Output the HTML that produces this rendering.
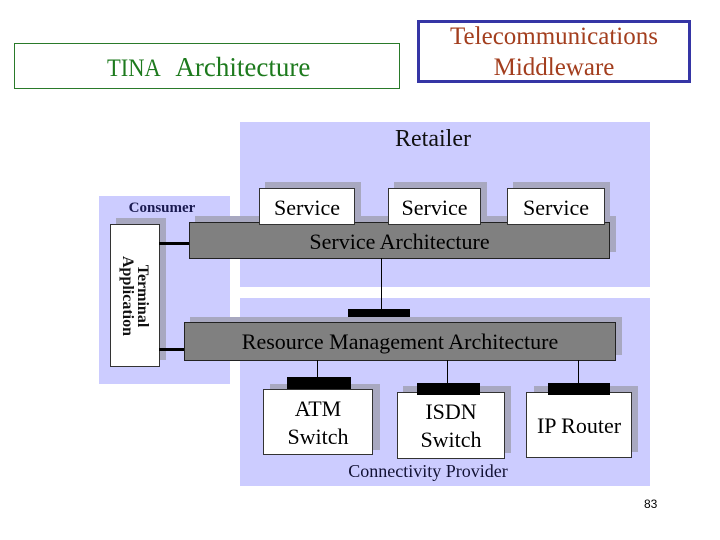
<!DOCTYPE html>
<html><head><style>
body{margin:0;width:720px;height:540px;background:#fff;position:relative;overflow:hidden;font-family:"Liberation Serif",serif}
div{position:absolute;box-sizing:border-box}
.t{white-space:nowrap;text-align:center}
.sh{background:#a8a8c0}
.wb{background:#fff;border:1px solid #333}
.bar{background:#808080;border:1px solid #222}
.blk{background:#000}
</style></head><body>
<div style="left:14px;top:43px;width:386px;height:46px;border:1px solid #2a7a2a"></div>
<div class="t" style="left:14px;top:51px;width:386px;color:#1d7a1d;font-size:27px;line-height:32px"><span style="font-size:25px;display:inline-block;transform:scaleX(0.9)">TINA</span>&nbsp; Architecture</div>
<div style="left:417px;top:20px;width:274px;height:63px;border:3px solid #3535a5"></div>
<div class="t" style="left:417px;top:20px;width:274px;color:#a33e1e;font-size:25px;line-height:31px;padding-top:1px">Telecommunications<br>Middleware</div>

<div style="left:240px;top:122px;width:410px;height:165px;background:#ccccff"></div>
<div style="left:240px;top:298px;width:410px;height:188px;background:#ccccff"></div>
<div style="left:99px;top:196px;width:131px;height:188px;background:#ccccff"></div>
<div class="t" style="left:240px;top:126px;width:386px;font-size:24px;color:#111">Retailer</div>
<div class="t" style="left:99px;top:200px;width:126px;font-size:15px;font-weight:bold;color:#1a1a50">Consumer</div>

<div class="sh" style="left:116px;top:218px;width:50px;height:142px"></div>
<div class="wb" style="left:110px;top:224px;width:50px;height:143px"></div>
<div class="t" style="left:60px;top:281px;width:150px;height:30px;transform:rotate(90deg);font-size:16px;font-weight:bold;line-height:15px;color:#111">Terminal<br>Application</div>
<div class="blk" style="left:159px;top:242px;width:30px;height:3px"></div>
<div class="blk" style="left:159px;top:348px;width:26px;height:3px"></div>

<div class="sh" style="left:195px;top:216px;width:421px;height:36px"></div>
<div class="bar" style="left:189px;top:222px;width:421px;height:37px"></div>
<div class="t" style="left:189px;top:229px;width:421px;font-size:22px">Service Architecture</div>
<div class="sh" style="left:265px;top:182px;width:96px;height:38px"></div>
<div class="wb" style="left:259px;top:188px;width:96px;height:37px"></div>
<div class="t" style="left:259px;top:195px;width:96px;font-size:22px">Service</div>
<div class="sh" style="left:394px;top:182px;width:93px;height:38px"></div>
<div class="wb" style="left:388px;top:188px;width:93px;height:37px"></div>
<div class="t" style="left:388px;top:195px;width:93px;font-size:22px">Service</div>
<div class="sh" style="left:513px;top:182px;width:97px;height:38px"></div>
<div class="wb" style="left:507px;top:188px;width:98px;height:37px"></div>
<div class="t" style="left:507px;top:195px;width:98px;font-size:22px">Service</div>

<div class="blk" style="left:381px;top:258px;width:1px;height:54px"></div>
<div class="blk" style="left:348px;top:309px;width:62px;height:13px"></div>

<div class="sh" style="left:190px;top:317px;width:432px;height:38px"></div>
<div class="bar" style="left:184px;top:322px;width:432px;height:39px"></div>
<div class="t" style="left:184px;top:329px;width:432px;font-size:22px">Resource Management Architecture</div>

<div class="blk" style="left:317px;top:360px;width:1px;height:18px"></div>
<div class="blk" style="left:447px;top:360px;width:1px;height:24px"></div>
<div class="blk" style="left:578px;top:360px;width:1px;height:24px"></div>

<div class="sh" style="left:270px;top:384px;width:110px;height:66px"></div>
<div class="wb" style="left:263px;top:389px;width:110px;height:66px"></div>
<div class="blk" style="left:287px;top:377px;width:64px;height:12px"></div>
<div class="t" style="left:263px;top:395px;width:110px;font-size:22px;line-height:28px">ATM<br>Switch</div>

<div class="sh" style="left:403px;top:386px;width:108px;height:67px"></div>
<div class="wb" style="left:397px;top:392px;width:108px;height:67px"></div>
<div class="blk" style="left:417px;top:383px;width:63px;height:12px"></div>
<div class="t" style="left:397px;top:398px;width:108px;font-size:22px;line-height:28px">ISDN<br>Switch</div>

<div class="sh" style="left:534px;top:386px;width:104px;height:66px"></div>
<div class="wb" style="left:526px;top:392px;width:106px;height:66px"></div>
<div class="blk" style="left:548px;top:383px;width:62px;height:12px"></div>
<div class="t" style="left:526px;top:413px;width:106px;font-size:22px">IP Router</div>

<div class="t" style="left:300px;top:461px;width:256px;font-size:18px;color:#111133">Connectivity Provider</div>
<div style="left:644px;top:497px;font-size:12px;font-family:'Liberation Sans',sans-serif">83</div>
</body></html>
